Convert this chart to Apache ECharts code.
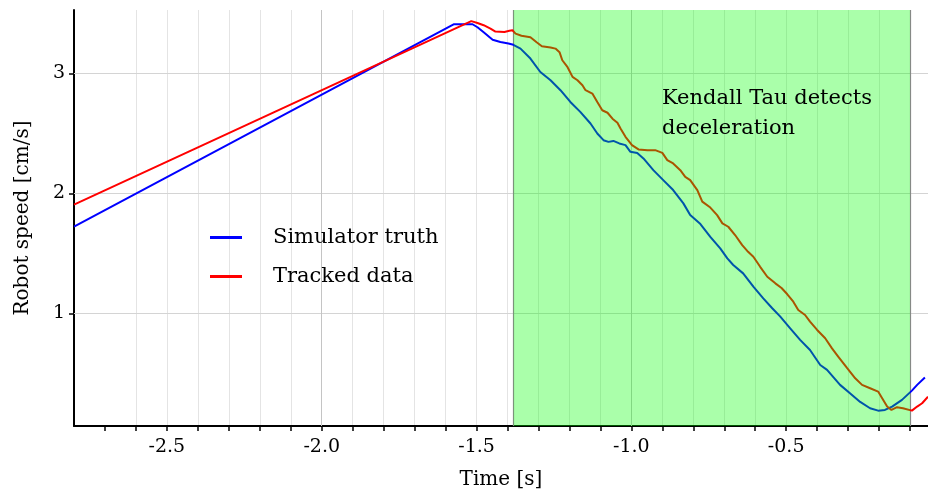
<!DOCTYPE html>
<html>
<head>
<meta charset="utf-8">
<script src="https://cdn.jsdelivr.net/npm/echarts@6/dist/echarts.min.js"></script>
<style>
html,body{margin:0;padding:0;background:#fff;}
#chart{width:928px;height:493px;}
</style>
</head>
<body>
<div id="chart"></div>
<script>
// ---- data ----
const simTime = [-2.8, -1.574, -1.513, -1.497, -1.477, -1.448, -1.423, -1.397, -1.381, -1.358, -1.326, -1.294, -1.261, -1.229, -1.197, -1.165, -1.132, -1.110, -1.090, -1.074, -1.058, -1.039, -1.019, -1.003, -0.981, -0.961, -0.929, -0.897, -0.865, -0.832, -0.810, -0.777, -0.745, -0.713, -0.690, -0.671, -0.639, -0.606, -0.574, -0.545, -0.519, -0.487, -0.455, -0.423, -0.390, -0.368, -0.326, -0.294, -0.261, -0.229, -0.203, -0.181, -0.158, -0.126, -0.094, -0.077, -0.052];
const simSpeed = [1.724, 3.411, 3.411, 3.386, 3.344, 3.282, 3.263, 3.250, 3.240, 3.208, 3.125, 3.013, 2.944, 2.861, 2.763, 2.680, 2.583, 2.500, 2.444, 2.430, 2.438, 2.417, 2.403, 2.347, 2.338, 2.292, 2.194, 2.111, 2.028, 1.917, 1.819, 1.744, 1.638, 1.542, 1.458, 1.403, 1.333, 1.222, 1.125, 1.042, 0.972, 0.875, 0.778, 0.694, 0.569, 0.528, 0.403, 0.333, 0.261, 0.208, 0.188, 0.194, 0.222, 0.278, 0.355, 0.403, 0.465];

const trackTime = [-2.8, -1.517, -1.497, -1.477, -1.455, -1.439, -1.410, -1.394, -1.384, -1.374, -1.355, -1.326, -1.306, -1.289, -1.261, -1.245, -1.232, -1.223, -1.206, -1.190, -1.174, -1.158, -1.148, -1.126, -1.110, -1.094, -1.077, -1.061, -1.045, -1.035, -1.019, -0.998, -0.977, -0.948, -0.923, -0.900, -0.884, -0.865, -0.842, -0.826, -0.810, -0.787, -0.771, -0.745, -0.723, -0.706, -0.687, -0.665, -0.642, -0.623, -0.606, -0.584, -0.561, -0.535, -0.515, -0.497, -0.477, -0.461, -0.439, -0.423, -0.400, -0.374, -0.352, -0.332, -0.303, -0.277, -0.255, -0.229, -0.203, -0.190, -0.174, -0.160, -0.142, -0.123, -0.094, -0.077, -0.061, -0.042];
const trackSpeed = [1.907, 3.437, 3.422, 3.403, 3.375, 3.350, 3.347, 3.357, 3.361, 3.333, 3.315, 3.303, 3.261, 3.228, 3.217, 3.208, 3.178, 3.111, 3.053, 2.972, 2.944, 2.903, 2.861, 2.833, 2.763, 2.694, 2.673, 2.623, 2.590, 2.542, 2.472, 2.403, 2.367, 2.361, 2.361, 2.338, 2.278, 2.250, 2.194, 2.138, 2.111, 2.028, 1.932, 1.882, 1.819, 1.750, 1.722, 1.653, 1.569, 1.513, 1.472, 1.388, 1.305, 1.250, 1.211, 1.161, 1.097, 1.028, 0.986, 0.930, 0.861, 0.792, 0.708, 0.638, 0.542, 0.458, 0.403, 0.375, 0.347, 0.292, 0.222, 0.194, 0.217, 0.208, 0.188, 0.222, 0.250, 0.305];

const xTickValues = [-2.7, -2.6, -2.5, -2.4, -2.3, -2.2, -2.1, -2.0, -1.9, -1.8, -1.7, -1.6, -1.5, -1.4, -1.3, -1.2, -1.1, -1.0, -0.9, -0.8, -0.7, -0.6, -0.5, -0.4, -0.3, -0.2, -0.1];
const xLabelValues = [-2.5, -2.0, -1.5, -1.0, -0.5];
const xMajorGrid = [-2.0, -1.0];
const yTickValues = [1, 2, 3];
const detectStart = -1.38;
const detectEnd = -0.1;
const seriesNames = ['Simulator truth', 'Tracked data'];
const annotation = 'Kendall Tau detects\ndeceleration';

const zip = (a, b) => a.map((v, i) => [v, b[i]]);
const FONT = 'DejaVu Serif';

const chart = echarts.init(document.getElementById('chart'), null, {renderer: 'canvas'});
chart.setOption({
  animation: false,
  backgroundColor: '#fff',
  grid: {left: 74, top: 10, right: 0, bottom: 67, containLabel: false, outerBoundsMode: 'none'},
  legend: {
    left: 210, top: 227, orient: 'vertical', padding: 0,
    icon: 'rect', itemWidth: 32, itemHeight: 3, itemGap: 18,
    data: seriesNames,
    textStyle: {fontFamily: FONT, fontSize: 21, color: '#000', lineHeight: 20, padding: [0, 0, 0, 26]}
  },
  xAxis: {
    type: 'value', min: -2.8, max: -0.042, interval: 0.1,
    name: 'Time [s]', nameLocation: 'middle', nameGap: 44,
    nameTextStyle: {fontFamily: FONT, fontSize: 20, color: '#000'},
    axisLine: {show: true, onZero: false, lineStyle: {color: '#000', width: 2}},
    axisTick: {show: true, length: 5, customValues: xTickValues, lineStyle: {color: '#000', width: 1.5}},
    axisLabel: {customValues: xLabelValues, margin: 12, fontFamily: FONT, fontSize: 19, color: '#000',
      formatter: v => v.toFixed(1)},
    splitLine: {show: true, showMinLine: false, showMaxLine: false, lineStyle: {color: '#e4e4e4', width: 1}}
  },
  yAxis: {
    type: 'value', min: 0.06, max: 3.53,
    name: 'Robot speed [cm/s]', nameLocation: 'middle', nameGap: 41,
    nameTextStyle: {fontFamily: FONT, fontSize: 20, color: '#000'},
    axisLine: {show: true, onZero: false, lineStyle: {color: '#000', width: 2}},
    axisTick: {show: true, length: 5, customValues: yTickValues, lineStyle: {color: '#000', width: 1.5}},
    axisLabel: {customValues: yTickValues, margin: 9, fontFamily: FONT, fontSize: 19, color: '#000'},
    splitLine: {show: false}
  },
  series: [
    {
      name: seriesNames[0], type: 'line', data: zip(simTime, simSpeed),
      symbol: 'none', smooth: false, clip: true, z: 2,
      lineStyle: {color: '#0000ff', width: 2}, itemStyle: {color: '#0000ff'},
      markArea: {
        silent: true, z: 10,
        itemStyle: {color: 'rgba(0,255,0,0.333)', borderWidth: 0},
        data: [[{xAxis: detectStart}, {xAxis: detectEnd}]]
      }
    },
    {
      name: seriesNames[1], type: 'line', data: zip(trackTime, trackSpeed),
      symbol: 'none', smooth: false, clip: true, z: 3,
      lineStyle: {color: '#ff0000', width: 2}, itemStyle: {color: '#ff0000'},
      markLine: {
        silent: true, z: 1, symbol: ['none', 'none'], label: {show: false},
        data: [
          ...yTickValues.map(v => ({yAxis: v, lineStyle: {color: '#d4d4d4', width: 1, type: 'solid'}})),
          ...xMajorGrid.map(v => ({xAxis: v, lineStyle: {color: '#c4c4c4', width: 1, type: 'solid'}})),
          {xAxis: detectStart, lineStyle: {color: '#888', width: 1.2, type: 'solid'}},
          {xAxis: detectEnd, lineStyle: {color: '#888', width: 1.2, type: 'solid'}}
        ]
      }
    }
  ],
  graphic: [{
    type: 'text', left: 662, top: 84, z: 100,
    style: {text: annotation, font: '21px "DejaVu Serif"', lineHeight: 30, fill: '#000'}
  }]
});
</script>
</body>
</html>
